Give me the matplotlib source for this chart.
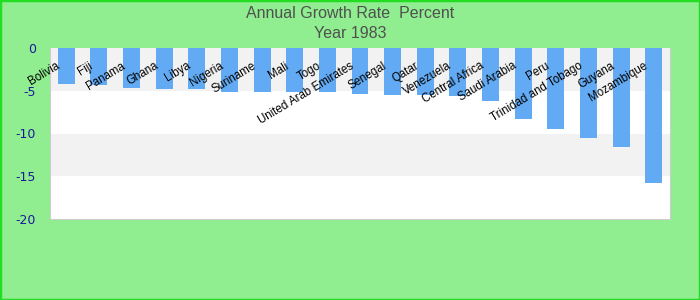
import matplotlib.pyplot as plt
from matplotlib.patches import Rectangle

# data
countries = ["Bolivia", "Fiji", "Panama", "Ghana", "Libya", "Nigeria", "Suriname",
             "Mali", "Togo", "United Arab Emirates", "Senegal", "Qatar", "Venezuela",
             "Central Africa", "Saudi Arabia", "Peru", "Trinidad and Tobago",
             "Guyana", "Mozambique"]
growth = [-4.2, -4.3, -4.65, -4.8, -4.8, -5.1, -5.2, -5.2, -5.2, -5.35, -5.47,
          -5.47, -5.58, -6.15, -8.35, -9.42, -10.47, -11.6, -15.8]
yticks = [0, -5, -10, -15, -20]

fig = plt.figure(figsize=(7, 3), dpi=100, facecolor="#90ee90")
fig.patches.append(Rectangle((0, 0), 1, 1, transform=fig.transFigure,
                             facecolor="none", edgecolor="#22dd22", linewidth=2.5))

ax = fig.add_axes([50 / 700, 1 - 219 / 300, 620 / 700, 171 / 300])
ax.set_facecolor("white")

# alternating horizontal bands
for k in range(len(yticks) - 1):
    if k % 2 == 0:
        ax.axhspan(yticks[k + 1], yticks[k], color="#f2f2f2", zorder=0, lw=0)

x = list(range(len(countries)))
ax.bar(x, growth, width=0.52, color="#62aaf3", zorder=2)

# category labels drawn inside the plot
for i, name in enumerate(countries):
    ax.text(i - 0.22, -2.0, name, rotation=31, ha="right", va="center",
            rotation_mode="anchor", fontsize=8.3, family="Liberation Sans",
            color="black", zorder=3, clip_on=False)

ax.set_xlim(-0.5, len(countries) - 0.5)
ax.set_ylim(-20, 0)
ax.set_xticks([])
ax.set_yticks(yticks)
ax.set_yticklabels([str(t) for t in yticks], color="#1a1a9a", fontsize=9)
ax.tick_params(axis="y", length=0, pad=10)
for s in ax.spines.values():
    s.set_color("#cccccc")
ax.spines["top"].set_visible(False)

fig.text(0.5, 1 - 13 / 300, "Annual Growth Rate  Percent", ha="center", va="center",
         fontsize=11.5, family="Liberation Sans", color="#505050")
fig.text(0.5, 1 - 33 / 300, "Year 1983", ha="center", va="center",
         fontsize=11.5, family="Liberation Sans", color="#505050")

fig.savefig("out.png", dpi=100, facecolor=fig.get_facecolor())
